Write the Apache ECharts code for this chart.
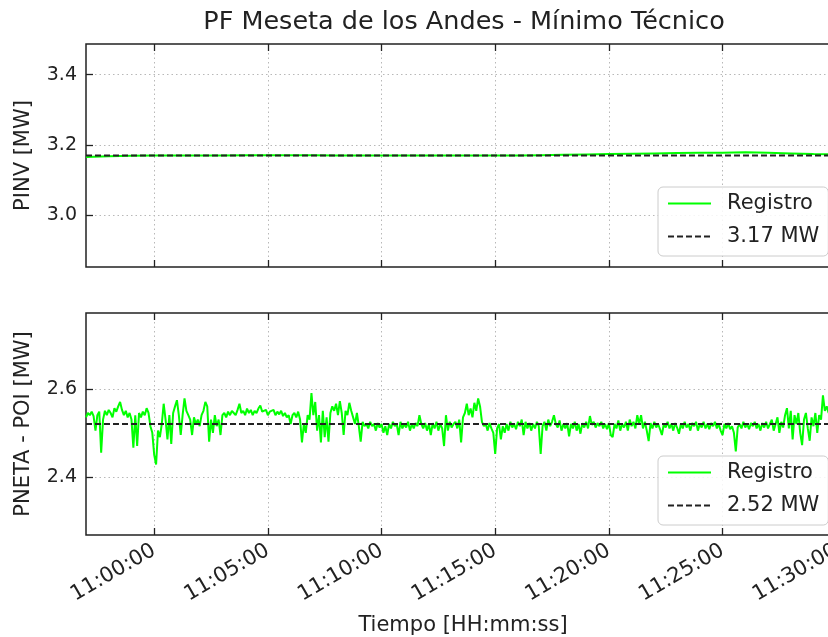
<!DOCTYPE html>
<html>
<head>
<meta charset="utf-8">
<script src="https://cdn.jsdelivr.net/npm/echarts@6/dist/echarts.min.js"></script>
<style>html,body{margin:0;padding:0;background:#fff}#c{width:828px;height:637px}</style>
</head>
<body>
<div id="c"></div>
<script>
const titleText = 'PF Meseta de los Andes - Mínimo Técnico';
const xName = 'Tiempo [HH:mm:ss]';
const yNameTop = 'PINV [MW]';
const yNameBottom = 'PNETA - POI [MW]';
const tickLabels = ['11:00:00','11:05:00','11:10:00','11:15:00','11:20:00','11:25:00','11:30:00'];
const xStart = '10:57:00';
const xEnd = '11:30:10';
const yTicksTop = [3.0, 3.2, 3.4];
const yTicksBottom = [2.4, 2.6];
const refTop = 3.17;
const refBottom = 2.52;
const refTopLabel = '3.17 MW';
const refBottomLabel = '2.52 MW';
const seriesLabel = 'Registro';

// PINV: one reading per minute starting at xStart
const pinvStep = 60;
const pinvValues = [3.166,3.168,3.169,3.170,3.170,3.170,3.170,3.171,3.171,3.171,3.171,3.170,3.170,3.170,3.170,3.170,3.170,3.170,3.170,3.170,3.171,3.172,3.173,3.174,3.175,3.176,3.177,3.178,3.178,3.179,3.178,3.176,3.174,3.173];

// PNETA - POI: one reading every 5 s starting at xStart
const pnetaStep = 5;
const pnetaValues = [
2.535,2.545,2.540,2.548,2.538,2.505,2.540,2.548,2.455,2.530,
2.550,2.540,2.552,2.545,2.535,2.556,2.548,2.560,2.570,2.552,
2.540,2.550,2.535,2.545,2.530,2.466,2.540,2.470,2.545,2.535,
2.548,2.540,2.556,2.545,2.515,2.500,2.450,2.428,2.505,2.490,
2.520,2.566,2.530,2.485,2.540,2.475,2.545,2.560,2.574,2.540,
2.495,2.540,2.578,2.550,2.540,2.530,2.495,2.535,2.520,2.530,
2.515,2.540,2.550,2.570,2.560,2.480,2.530,2.500,2.540,2.515,
2.530,2.495,2.540,2.545,2.535,2.548,2.540,2.550,2.545,2.540,
2.552,2.566,2.545,2.550,2.540,2.555,2.545,2.552,2.540,2.550,
2.545,2.555,2.562,2.548,2.545,2.552,2.540,2.548,
2.545,2.552,2.540,2.548,2.542,2.550,2.538,2.545,2.535,2.540,
2.520,2.540,2.545,2.535,2.548,2.530,2.478,2.520,2.500,2.540,
2.530,2.590,2.540,2.570,2.505,2.540,2.478,2.550,2.490,2.535,
2.480,2.545,2.560,2.550,2.566,2.540,2.572,2.545,2.495,2.550,
2.540,2.568,2.550,2.535,2.520,2.545,2.515,2.480,2.525,2.515,
2.520,2.510,2.525,2.515,2.520,2.505,2.522,2.512,2.520,2.500,
2.515,2.495,2.520,2.510,2.525,2.515,2.520,2.495,2.525,2.510,
2.520,2.512,2.525,2.505,2.520,2.510,2.522,2.515,2.540,2.520,
2.510,2.522,2.505,2.520,2.495,2.522,2.510,2.525,2.505,2.520,
2.510,2.470,2.540,2.505,2.525,2.512,2.520,
2.525,2.510,2.530,2.478,2.535,2.545,2.566,2.540,2.555,2.535,
2.568,2.550,2.578,2.560,2.525,2.515,2.520,2.505,2.522,2.510,
2.500,2.452,2.510,2.520,2.485,2.515,2.500,2.520,2.505,2.525,
2.512,2.520,2.508,2.525,2.515,2.530,2.495,2.525,2.510,2.522,
2.505,2.520,2.510,2.525,2.515,2.452,2.515,2.525,2.505,2.530,
2.515,2.525,2.540,2.520,2.512,2.528,2.505,2.520,2.510,2.522,
2.492,2.520,2.510,2.525,2.505,2.520,2.498,2.522,2.512,2.525,
2.510,2.538,2.518,2.525,2.512,2.522,2.515,2.525,2.510,2.520,
2.508,2.522,2.495,2.490,2.520,2.510,2.528,2.505,2.520,2.512,
2.525,2.505,2.530,2.515,2.525,2.510,2.540,2.520,
2.540,2.510,2.525,2.505,2.481,2.522,2.510,2.525,2.512,2.520,
2.508,2.495,2.520,2.512,2.525,2.510,2.520,2.505,2.522,2.512,
2.498,2.520,2.510,2.525,2.512,2.520,2.505,2.522,2.515,2.525,
2.505,2.520,2.512,2.525,2.510,2.520,2.508,2.522,2.515,2.525,
2.510,2.520,2.505,2.495,2.520,2.510,2.522,2.508,2.515,2.500,
2.458,2.512,2.520,2.510,2.525,2.512,2.520,2.508,2.522,2.515,
2.525,2.510,2.520,2.505,2.522,2.512,2.525,2.510,2.520,2.530,
2.505,2.520,2.535,2.500,2.525,2.512,2.540,2.556,2.510,2.550,
2.485,2.540,2.520,2.545,2.500,2.472,2.530,2.545,2.510,2.482,
2.535,2.515,2.545,2.500,2.540,2.530,2.585,2.550,2.560,2.545,
2.555,2.548,2.552,2.545,2.550,2.548
];

const toSec = s => { const p = s.split(':').map(Number); return p[0]*3600 + p[1]*60 + p[2]; };
const fmt = v => { const h = Math.floor(v/3600), m = Math.floor((v%3600)/60), s = Math.round(v%60);
  return String(h).padStart(2,'0') + ':' + String(m).padStart(2,'0') + ':' + String(s).padStart(2,'0'); };
const xMin = toSec(xStart), xMax = toSec(xEnd);
const xTicks = tickLabels.map(toSec);
const pinvData = pinvValues.map((v,i) => [xMin + i*pinvStep, v]);
const pnetaData = pnetaValues.map((v,i) => [xMin + i*pnetaStep, v]);

const FONT = 'DejaVu Sans';
const TXT = '#222';
const dotted = { color: '#b8b8b8', width: 1, type: [1.5, 3] };
const tickStyle = { show: true, inside: true, length: 7, lineStyle: { color: '#222', width: 1.3 } };

function xAx(grid, pos, labels) {
  return {
    type: 'value', gridIndex: grid, position: pos, min: xMin, max: xMax,
    axisLine: { show: false },
    axisTick: Object.assign({ customValues: xTicks }, tickStyle),
    axisLabel: { show: labels, customValues: xTicks, rotate: 30, margin: 14, fontSize: 21, color: TXT, fontFamily: FONT, formatter: fmt },
    splitLine: { show: pos === 'bottom', lineStyle: dotted },
    name: labels ? xName : '', nameLocation: 'middle', nameGap: 80,
    nameTextStyle: { fontSize: 21, color: TXT, fontFamily: FONT }
  };
}
function yAx(grid, min, max, ticks, name) {
  return {
    type: 'value', gridIndex: grid, min: min, max: max,
    axisLine: { show: false },
    axisTick: Object.assign({ customValues: ticks }, tickStyle),
    axisLabel: { customValues: ticks, margin: 9, fontSize: 19, color: TXT, fontFamily: FONT, formatter: v => v.toFixed(1) },
    splitLine: { show: true, lineStyle: dotted },
    name: name, nameLocation: 'middle', nameGap: 52,
    nameTextStyle: { fontSize: 21, color: TXT, fontFamily: FONT }
  };
}
function legend(top, items) {
  return {
    data: items, orient: 'vertical', left: 658, top: top,
    itemWidth: 43, itemHeight: 14, itemGap: 10,
    padding: [5, 9, 8, 9],
    itemStyle: { opacity: 0 },
    backgroundColor: 'rgba(255,255,255,0.85)', borderColor: '#cccccc', borderWidth: 1, borderRadius: 5,
    textStyle: { fontSize: 21, color: TXT, fontFamily: FONT, padding: [0, 0, 0, 11], lineHeight: 23 },
    selectedMode: false
  };
}

const chart = echarts.init(document.getElementById('c'), null, { renderer: 'canvas' });
chart.setOption({
  animation: false,
  backgroundColor: '#fff',
  title: { text: titleText, left: 459, top: 4, textAlign: 'center',
    textStyle: { fontSize: 25.5, fontWeight: 'normal', color: TXT, fontFamily: FONT } },
  grid: [
    { left: 86, right: -12, top: 44, height: 223, show: true, borderColor: '#222', borderWidth: 1.5, outerBoundsMode: 'none' },
    { left: 86, right: -12, top: 313, height: 222, show: true, borderColor: '#222', borderWidth: 1.5, outerBoundsMode: 'none' }
  ],
  xAxis: [ xAx(0, 'bottom', false), xAx(0, 'top', false), xAx(1, 'bottom', true), xAx(1, 'top', false) ],
  yAxis: [
    yAx(0, refTop * 0.9, refTop * 1.1, yTicksTop, yNameTop),
    yAx(1, refBottom * 0.9, refBottom * 1.1, yTicksBottom, yNameBottom)
  ],
  legend: [ legend(187, [seriesLabel, refTopLabel]), legend(456, [seriesLabel, refBottomLabel]) ],
  series: [
    { name: seriesLabel, type: 'line', xAxisIndex: 0, yAxisIndex: 0, data: pinvData, showSymbol: false, symbol: 'none',
      lineStyle: { color: '#00ff00', width: 2 }, itemStyle: { color: '#00ff00' }, z: 2 },
    { name: refTopLabel, type: 'line', xAxisIndex: 0, yAxisIndex: 0, data: [[xMin, refTop], [xMax, refTop]], showSymbol: false, symbol: 'none',
      lineStyle: { color: '#222', width: 1.8, type: [6, 3] }, itemStyle: { color: '#222' }, z: 3 },
    { name: seriesLabel, type: 'line', xAxisIndex: 2, yAxisIndex: 1, data: pnetaData, showSymbol: false, symbol: 'none',
      lineStyle: { color: '#00ff00', width: 2 }, itemStyle: { color: '#00ff00' }, z: 2 },
    { name: refBottomLabel, type: 'line', xAxisIndex: 2, yAxisIndex: 1, data: [[xMin, refBottom], [xMax, refBottom]], showSymbol: false, symbol: 'none',
      lineStyle: { color: '#222', width: 1.8, type: [6, 3] }, itemStyle: { color: '#222' }, z: 3 }
  ]
});
</script>
</body>
</html>
